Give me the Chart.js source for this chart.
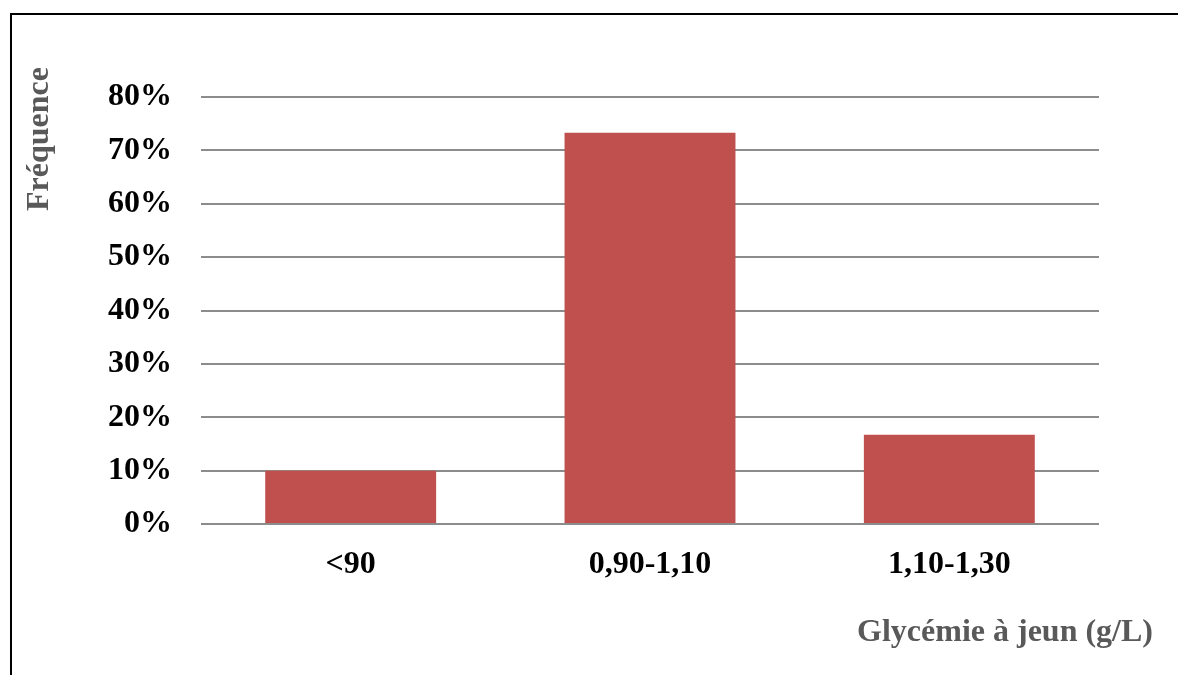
<!DOCTYPE html>
<html lang="fr">
<head>
<meta charset="utf-8">
<title>Glycémie à jeun</title>
<script src="https://cdn.jsdelivr.net/npm/chart.js@4/dist/chart.umd.min.js"></script>
<style>
  html, body { margin: 0; padding: 0; background: #fff; }
  #wrap { position: relative; width: 1178px; height: 675px; overflow: hidden; }
  #frame {
    position: absolute; left: 10px; top: 13px; width: 1200px; height: 700px;
    border-top: 2px solid #000; border-left: 2px solid #000; box-sizing: border-box;
  }
  canvas { position: absolute; left: 0; top: 0; }
</style>
</head>
<body>
<div id="wrap">
  <div id="frame"></div>
  <canvas id="chart" width="1178" height="675"></canvas>
</div>
<script>
// Fasting blood glucose classes and their share of the sample (%)
const categories = ['<90', '0,90-1,10', '1,10-1,30'];
const frequencies = [10, 73.3, 16.7];
const yTicks = [0, 10, 20, 30, 40, 50, 60, 70, 80];
const yTitle = 'Fréquence';
const xTitle = 'Glycémie à jeun (g/L)';

const FONT = '"Liberation Serif", "Times New Roman", serif';

// Axis titles drawn next to the plot area
const axisTitles = {
  id: 'axisTitles',
  afterDraw(chart) {
    const { ctx, chartArea } = chart;
    ctx.save();
    ctx.fillStyle = '#595959';
    ctx.font = 'bold 32px ' + FONT;
    ctx.textBaseline = 'middle';
    // vertical title
    ctx.save();
    ctx.translate(chartArea.left - 161, chartArea.top + 42);
    ctx.rotate(-Math.PI / 2);
    ctx.textAlign = 'center';
    ctx.fillText(yTitle, 0, 0);
    ctx.restore();
    // horizontal title
    ctx.textAlign = 'right';
    ctx.fillText(xTitle, chartArea.right + 54, chartArea.bottom + 109);
    ctx.restore();
  }
};

new Chart(document.getElementById('chart'), {
  type: 'bar',
  data: {
    labels: categories,
    datasets: [{
      data: frequencies,
      backgroundColor: '#C0504D',
      borderWidth: 0,
      categoryPercentage: 1,
      barPercentage: 0.571
    }]
  },
  options: {
    responsive: false,
    animation: false,
    layout: { padding: { left: 0, right: 79, top: 97, bottom: 0 } },
    plugins: { legend: { display: false }, tooltip: { enabled: false } },
    scales: {
      x: {
        grid: { display: false, drawTicks: false },
        border: { display: false },
        ticks: {
          color: '#000',
          font: { family: FONT, size: 32, weight: 'bold' },
          padding: 22,
          maxRotation: 0
        },
        afterFit(scale) { scale.height = 151; }
      },
      y: {
        min: 0,
        max: 80,
        afterBuildTicks(scale) { scale.ticks = yTicks.map(v => ({ value: v })); },
        grid: { color: '#8c8c8c', lineWidth: 2, drawTicks: false },
        border: { display: false },
        ticks: {
          color: '#000',
          font: { family: FONT, size: 32, weight: 'bold' },
          padding: 29,
          callback: v => v + '%'
        },
        afterFit(scale) { scale.width = 201; }
      }
    }
  },
  plugins: [axisTitles]
});
</script>
</body>
</html>
